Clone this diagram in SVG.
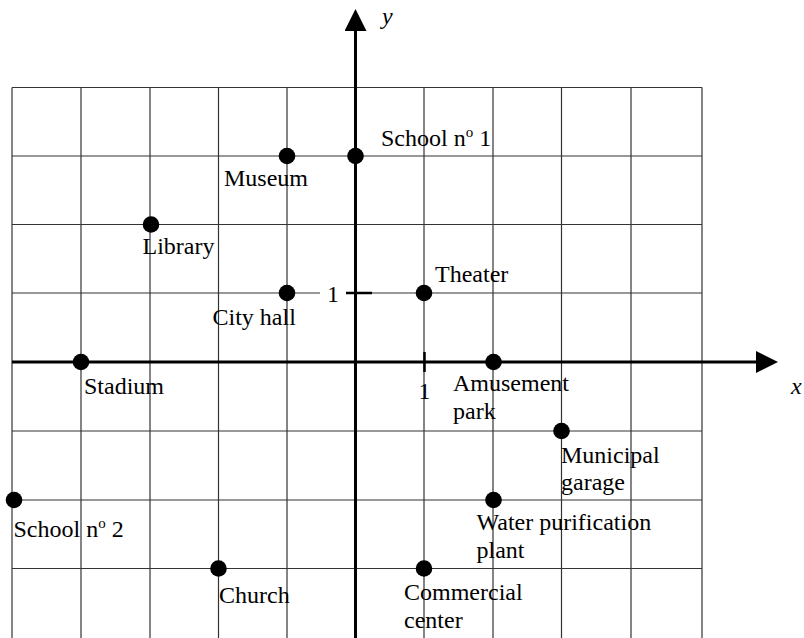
<svg xmlns="http://www.w3.org/2000/svg" width="804" height="638" viewBox="0 0 804 638">
<style>
text{font-family:"Liberation Serif","Times New Roman",serif;font-size:24px;fill:#000}
.it{font-style:italic}
.grid line{stroke:#333;stroke-width:1.2}
.axis{stroke:#000;stroke-width:3}
.dot{fill:#000}
</style>
<defs>
<marker id="arr" markerUnits="userSpaceOnUse" markerWidth="22" markerHeight="22" refX="0" refY="11" orient="auto" viewBox="0 0 22 22">
<path d="M0,0 L22,11 L0,22 Z" fill="#000"/>
</marker>
</defs>
<rect width="804" height="638" fill="#fff"/>
<g class="grid">
<line x1="12" y1="87.5" x2="12" y2="638"/>
<line x1="81" y1="87.5" x2="81" y2="638"/>
<line x1="150" y1="87.5" x2="150" y2="638"/>
<line x1="218.5" y1="87.5" x2="218.5" y2="638"/>
<line x1="287" y1="87.5" x2="287" y2="638"/>
<line x1="424" y1="87.5" x2="424" y2="638"/>
<line x1="493" y1="87.5" x2="493" y2="638"/>
<line x1="561.5" y1="87.5" x2="561.5" y2="638"/>
<line x1="631" y1="87.5" x2="631" y2="638"/>
<line x1="702" y1="87.5" x2="702" y2="638"/>
<line x1="12" y1="87.5" x2="702" y2="87.5"/>
<line x1="12" y1="156" x2="702" y2="156"/>
<line x1="12" y1="224.5" x2="702" y2="224.5"/>
<line x1="12" y1="293" x2="320" y2="293"/>
<line x1="346" y1="293" x2="702" y2="293"/>
<line x1="12" y1="431" x2="702" y2="431"/>
<line x1="12" y1="500" x2="702" y2="500"/>
<line x1="12" y1="568.5" x2="702" y2="568.5"/>
</g>
<g id="connectors">
<line class="axis" x1="355.5" y1="638" x2="355.5" y2="31" marker-end="url(#arr)"/>
<line class="axis" x1="12" y1="362" x2="756" y2="362" marker-end="url(#arr)"/>
<line x1="346" y1="293" x2="372" y2="293" stroke="#000" stroke-width="2.5"/>
<line x1="424.5" y1="352" x2="424.5" y2="372" stroke="#000" stroke-width="2.5"/>
</g>
<g id="axis-labels">
<text class="it" x="382" y="24">y</text>
<text class="it" x="791" y="394">x</text>
<text x="333" y="302" text-anchor="middle">1</text>
<text x="424.5" y="399" text-anchor="middle">1</text>
</g>
<g id="school1"><circle class="dot" cx="355.5" cy="156" r="8.3"/><text x="381" y="146">School n<tspan font-size="15" dy="-9">o</tspan><tspan dy="9"> 1</tspan></text></g>
<g id="museum"><circle class="dot" cx="287" cy="156" r="8.3"/><text x="224" y="186">Museum</text></g>
<g id="library"><circle class="dot" cx="151" cy="224.5" r="8.3"/><text x="142.5" y="254">Library</text></g>
<g id="cityhall"><circle class="dot" cx="287" cy="293" r="8.3"/><text x="212.5" y="325">City hall</text></g>
<g id="theater"><circle class="dot" cx="424" cy="293" r="8.3"/><text x="435" y="282">Theater</text></g>
<g id="stadium"><circle class="dot" cx="81" cy="362" r="8.3"/><text x="84" y="394">Stadium</text></g>
<g id="amusement"><circle class="dot" cx="493.5" cy="362" r="8.3"/><text x="453" y="391">Amusement</text><text x="453" y="418.5">park</text></g>
<g id="garage"><circle class="dot" cx="561.5" cy="431" r="8.3"/><text x="561" y="463">Municipal</text><text x="561" y="490">garage</text></g>
<g id="water"><circle class="dot" cx="493.5" cy="500" r="8.3"/><text x="476.5" y="530">Water purification</text><text x="476.5" y="557.5">plant</text></g>
<g id="school2"><circle class="dot" cx="14" cy="500" r="8.3"/><text x="13.5" y="537">School n<tspan font-size="15" dy="-9">o</tspan><tspan dy="9"> 2</tspan></text></g>
<g id="church"><circle class="dot" cx="218.5" cy="568.5" r="8.3"/><text x="219" y="603">Church</text></g>
<g id="commercial"><circle class="dot" cx="424" cy="568.5" r="8.3"/><text x="404" y="600">Commercial</text><text x="404" y="627.5">center</text></g>
</svg>
